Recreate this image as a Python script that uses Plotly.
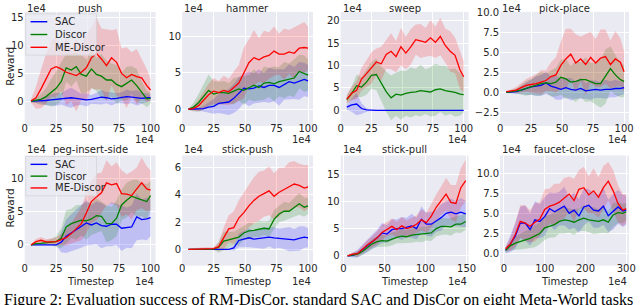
import plotly.graph_objects as go

# ---------------- data (values x1e4) ----------------
steps_100 = [5, 9, 13, 17, 21, 25, 29, 33, 37, 41, 45, 49, 53, 57, 61, 65, 69, 73, 77, 81, 85, 89, 93, 97, 100]
steps_150 = [5, 11, 17, 23, 29, 35, 41, 47, 53, 59, 65, 71, 77, 83, 89, 95, 101, 107, 113, 119, 125, 131, 137, 143, 149]
steps_300 = [4, 16, 28, 40, 52, 64, 76, 88, 100, 112, 124, 136, 148, 160, 172, 184, 196, 208, 220, 232, 244, 256, 268, 280, 292, 300]

push_sac = [0, 0, 0.05, 0.1, 0.2, 0.3, 0.4, 0.5, 0.6, 0.5, 0.3, 0.2, 0.3, 0.5, 0.7, 0.6, 0.4, 0.5, 0.6, 0.8, 0.7, 0.6, 0.5, 0.6, 0.6]
push_sac_sd = [0.2, 0.3, 0.5, 0.8, 1.0, 1.2, 1.0, 1.5, 1.8, 1.3, 1.0, 1.2, 0.8, 1.0, 1.3, 1.0, 1.2, 0.9, 1.0, 1.3, 1.1, 1.4, 1.0, 0.8, 0.6]
push_dis = [0, 0.1, 0.3, 0.8, 1.5, 2.3, 3.5, 6.0, 5.6, 6.2, 4.8, 4.5, 5.8, 4.8, 4.5, 3.8, 3.8, 3.0, 2.6, 3.2, 3.8, 2.8, 1.6, 0.4, 0.5]
push_dis_sd = [0.2, 0.5, 1.0, 1.5, 2.5, 3.0, 3.5, 2.5, 3.0, 2.5, 3.5, 3.0, 3.5, 3.0, 4.0, 3.5, 3.0, 3.5, 2.5, 3.0, 2.5, 3.0, 2.0, 1.5, 1.0]
push_me = [0, 0.6, 2.2, 4.0, 5.8, 6.2, 5.8, 5.2, 4.9, 4.6, 5.2, 6.0, 7.8, 8.6, 7.6, 6.4, 7.8, 7.0, 5.0, 4.2, 4.8, 4.4, 4.2, 2.8, 2.0]
push_me_sd = [0.3, 2.0, 3.5, 4.5, 5.0, 5.5, 4.0, 6.0, 5.0, 6.5, 5.0, 6.0, 5.5, 6.5, 5.5, 6.5, 5.0, 6.0, 4.5, 5.5, 4.0, 5.0, 3.5, 3.0, 2.0]

ham_sac = [0, 0, 0, 0.1, 0.3, 0.4, 0.8, 0.9, 1.0, 1.5, 2.2, 2.9, 2.8, 2.9, 3.2, 3.0, 3.3, 3.3, 3.0, 3.4, 3.8, 3.6, 3.9, 4.1, 3.9]
ham_sac_sd = [0, 0.1, 0.2, 0.4, 0.7, 1.0, 1.3, 1.6, 1.8, 2.0, 2.2, 2.0, 2.4, 2.1, 2.3, 2.0, 2.4, 2.2, 2.5, 2.1, 2.4, 2.2, 2.6, 2.3, 2.2]
ham_dis = [0, 0.3, 0.9, 1.7, 2.6, 2.1, 2.3, 2.3, 2.2, 2.5, 2.8, 2.6, 3.0, 3.3, 3.0, 3.6, 3.7, 3.5, 3.8, 4.0, 4.1, 4.3, 5.2, 4.9, 4.7]
ham_dis_sd = [0.1, 0.6, 1.2, 1.8, 2.2, 1.8, 1.5, 1.6, 1.4, 1.8, 1.6, 2.0, 1.7, 2.2, 1.8, 2.3, 2.0, 2.4, 2.0, 2.5, 2.2, 2.6, 2.3, 2.5, 2.2]
ham_me = [0, 0.1, 0.5, 1.2, 2.0, 2.5, 2.3, 2.6, 2.4, 3.0, 3.6, 5.0, 6.4, 7.1, 6.8, 7.2, 7.4, 8.0, 7.6, 7.6, 7.9, 7.7, 8.4, 8.5, 8.4]
ham_me_sd = [0.1, 0.3, 0.8, 1.2, 1.5, 1.8, 1.6, 2.0, 1.8, 2.2, 2.5, 3.5, 3.2, 3.8, 3.0, 3.6, 3.2, 3.4, 2.8, 3.5, 3.0, 3.6, 3.2, 3.5, 3.0]

swp_sac = [0.7, 1.2, 1.4, 0.4, 0.1, 0.0, 0, 0, 0, 0, 0, 0, 0, 0, 0, 0, 0, 0, 0, 0, 0, 0, 0, 0, 0]
swp_sac_sd = [0.6, 1.5, 2.5, 1.2, 0.4, 0.1, 0.05, 0.05, 0.05, 0.05, 0.05, 0.05, 0.05, 0.05, 0.05, 0.05, 0.05, 0.05, 0.05, 0.05, 0.05, 0.05, 0.05, 0.05, 0.05]
swp_dis = [2.4, 3.8, 5.5, 5.2, 6.3, 7.8, 8.0, 6.0, 4.2, 2.8, 3.6, 3.4, 3.8, 4.0, 4.1, 4.4, 4.2, 4.1, 4.6, 4.8, 4.4, 4.2, 4.0, 3.6, 3.5]
swp_dis_sd = [0.8, 1.5, 2.5, 2.2, 2.8, 3.0, 3.5, 3.8, 4.5, 5.0, 4.8, 5.5, 5.0, 5.6, 5.2, 5.8, 5.0, 5.5, 5.8, 5.2, 5.6, 5.0, 5.4, 4.8, 4.0]
swp_me = [2.5, 3.8, 4.5, 7.0, 8.2, 9.5, 10.8, 10.4, 12.5, 13.2, 12.0, 14.2, 12.8, 14.2, 15.8, 15.5, 15.2, 16.2, 15.2, 16.5, 14.5, 13.2, 12.3, 9.0, 7.5]
swp_me_sd = [1.0, 1.5, 2.0, 2.5, 3.0, 3.5, 3.0, 3.8, 3.2, 4.0, 3.5, 4.2, 3.6, 4.0, 3.4, 3.8, 3.2, 4.0, 3.5, 4.2, 3.8, 4.5, 4.0, 4.2, 3.5]

pp_sac = [0, 0.05, 0.1, 0.3, 0.5, 0.7, 0.8, 0.9, 1.2, 0.8, 0.6, 0.4, 0.6, 0.4, 0.3, 0.5, 0.2, 0.3, 0.4, 0.3, 0.4, 0.4, 0.5, 0.5, 0.6]
pp_sac_sd = [0.05, 0.1, 0.3, 0.5, 0.8, 1.0, 1.2, 1.3, 1.4, 1.2, 1.5, 1.3, 1.2, 1.4, 1.1, 1.3, 1.0, 1.2, 1.1, 1.0, 1.2, 1.0, 1.1, 0.9, 0.8]
pp_dis = [0, 0.1, 0.2, 0.3, 0.5, 0.7, 0.9, 1.1, 1.2, 1.1, 1.3, 1.9, 1.7, 1.3, 1.4, 1.6, 1.6, 1.3, 1.1, 1.1, 2.0, 3.0, 2.2, 1.6, 1.4]
pp_dis_sd = [0.1, 0.2, 0.3, 0.6, 0.9, 1.0, 1.3, 1.5, 1.2, 1.6, 1.8, 2.2, 2.5, 2.0, 2.6, 2.2, 2.8, 2.4, 2.6, 3.0, 3.4, 2.8, 2.5, 2.2, 2.0]
pp_me = [0.1, 0.2, 0.3, 0.6, 0.9, 1.0, 1.1, 1.3, 1.5, 2.0, 2.2, 3.4, 4.2, 4.8, 3.7, 4.2, 3.5, 4.4, 3.7, 4.3, 4.5, 3.5, 4.2, 3.8, 2.6]
pp_me_sd = [0.1, 0.2, 0.4, 0.6, 0.8, 1.0, 1.2, 1.5, 1.3, 1.8, 2.2, 3.0, 3.8, 3.2, 3.6, 2.8, 3.8, 3.2, 3.0, 3.6, 3.4, 3.0, 3.5, 3.0, 2.5]

peg_sac = [0, 0, 0, 0, 0, 0, 0.4, 1.3, 1.8, 2.3, 2.8, 3.3, 3.0, 3.3, 2.9, 2.8, 3.1, 3.1, 2.5, 2.6, 2.7, 4.2, 3.8, 3.9, 4.1]
peg_sac_sd = [0, 0, 0, 0, 0, 0, 1.5, 2.5, 2.8, 3.0, 3.2, 3.4, 3.0, 3.2, 3.4, 3.0, 3.3, 3.1, 3.4, 3.0, 3.2, 3.5, 3.0, 3.2, 2.8]
peg_dis = [0, 0.2, 0.25, 0.35, 0.4, 0.5, 1.0, 2.7, 3.2, 3.4, 3.7, 3.6, 3.9, 4.4, 4.3, 3.2, 3.2, 4.0, 6.0, 6.7, 7.3, 7.0, 6.8, 6.5, 7.4]
peg_dis_sd = [0.1, 0.2, 0.3, 0.4, 0.5, 0.8, 1.5, 2.5, 2.2, 2.6, 2.3, 2.8, 2.4, 2.6, 2.2, 2.8, 2.5, 2.7, 2.3, 2.6, 2.4, 2.8, 2.5, 2.6, 2.2]
peg_me = [0, 0.5, 0.7, 0.45, 0.45, 0.5, 0.8, 1.1, 1.7, 2.5, 3.2, 4.8, 6.5, 7.2, 7.8, 9.3, 9.0, 9.2, 7.7, 7.6, 7.4, 8.4, 9.3, 8.4, 8.2]
peg_me_sd = [0.1, 0.4, 0.5, 0.4, 0.5, 0.6, 0.8, 1.2, 1.5, 2.0, 2.5, 3.0, 3.2, 3.5, 3.0, 3.4, 2.8, 3.2, 3.5, 3.0, 3.6, 3.2, 3.8, 3.4, 3.0]

sp_sac = [0, 0, 0, 0, 0, 0, 0, 0, 0, 0.1, 0.65, 0.75, 0.85, 0.75, 0.8, 0.85, 0.9, 0.85, 0.82, 0.8, 0.75, 0.7, 0.8, 0.9, 0.85]
sp_sac_sd = [0, 0, 0, 0, 0, 0, 0, 0, 0, 0.2, 0.5, 0.6, 0.7, 0.6, 0.7, 0.8, 0.7, 0.8, 0.7, 0.8, 0.9, 0.8, 0.9, 0.8, 0.7]
sp_dis = [0, 0, 0, 0, 0, 0.02, 0.15, 0.6, 0.7, 0.8, 0.9, 1.2, 1.35, 1.4, 1.5, 1.55, 1.5, 2.2, 2.6, 2.8, 2.8, 3.1, 3.35, 3.1, 3.2]
sp_dis_sd = [0, 0, 0.02, 0.02, 0.02, 0.05, 0.4, 0.7, 0.6, 0.5, 0.6, 0.5, 0.6, 0.5, 0.6, 0.5, 0.6, 0.7, 0.6, 0.7, 0.6, 0.7, 0.8, 0.7, 0.6]
sp_me = [0, 0, 0.05, 0.05, 0.05, 0.05, 0.2, 0.8, 1.5, 1.6, 2.3, 2.7, 3.2, 3.6, 3.9, 4.1, 4.3, 3.9, 4.2, 4.4, 4.6, 4.8, 4.7, 4.5, 4.6]
sp_me_sd = [0.05, 0.1, 0.1, 0.1, 0.1, 0.1, 0.3, 0.8, 1.0, 1.2, 1.3, 1.5, 1.6, 1.7, 1.8, 1.7, 1.8, 1.7, 1.8, 1.6, 1.8, 1.7, 1.6, 1.7, 1.6]

spl_sac = [0, 0.1, 0.4, 1.1, 1.8, 2.6, 3.3, 4.2, 4.0, 4.8, 5.0, 5.0, 5.2, 5.5, 5.0, 6.7, 5.8, 5.8, 6.4, 7.0, 7.8, 8.0, 7.7, 8.0, 7.7]
spl_sac_sd = [0.1, 0.4, 0.7, 0.9, 1.1, 1.3, 1.5, 1.8, 1.6, 1.9, 1.7, 2.1, 1.8, 2.2, 2.0, 2.4, 2.1, 2.3, 2.0, 2.4, 2.2, 2.5, 2.3, 2.6, 2.4]
spl_dis = [0, 0.1, 0.3, 0.8, 1.5, 2.2, 2.6, 2.8, 2.7, 3.1, 3.4, 3.6, 3.5, 3.8, 3.9, 3.9, 4.1, 4.2, 5.0, 5.4, 5.4, 5.3, 5.8, 5.8, 6.3]
spl_dis_sd = [0.1, 0.3, 0.5, 0.7, 0.8, 0.9, 1.0, 1.1, 1.0, 1.2, 1.1, 1.3, 1.2, 1.4, 1.3, 1.4, 1.3, 1.5, 1.4, 1.6, 1.5, 1.6, 1.5, 1.6, 1.5]
spl_me = [0, 0.3, 0.4, 1.2, 2.0, 2.6, 3.3, 4.3, 4.9, 5.4, 4.8, 5.5, 5.0, 5.3, 5.8, 6.6, 6.1, 7.3, 8.9, 10.1, 11.3, 9.8, 9.6, 12.5, 13.8]
spl_me_sd = [0.1, 0.3, 0.5, 0.7, 0.9, 1.0, 1.2, 1.4, 1.3, 1.5, 1.4, 1.6, 1.5, 1.7, 1.6, 1.9, 1.8, 2.2, 2.4, 2.6, 3.0, 3.2, 3.4, 3.6, 3.8]

fc_sac = [0.4, 1.2, 2.2, 3.8, 3.8, 3.0, 4.2, 4.0, 4.6, 5.6, 5.2, 5.6, 5.9, 5.0, 5.4, 4.7, 5.8, 6.0, 5.4, 5.3, 5.9, 4.7, 5.2, 5.8, 5.3, 5.4]
fc_sac_sd = [0.4, 1.0, 1.6, 2.0, 2.2, 2.0, 2.3, 2.1, 2.4, 2.0, 2.3, 2.1, 2.4, 2.0, 2.2, 2.1, 2.3, 2.0, 2.2, 2.1, 2.3, 2.0, 2.2, 2.1, 2.0, 1.8]
fc_dis = [0.4, 1.0, 1.3, 1.5, 1.7, 1.9, 2.2, 2.5, 3.2, 3.4, 3.6, 4.0, 4.2, 4.1, 3.9, 4.2, 4.4, 4.2, 4.1, 4.0, 4.2, 3.9, 4.8, 5.1, 5.0, 5.2]
fc_dis_sd = [0.3, 0.6, 0.8, 1.0, 1.1, 1.2, 1.4, 1.3, 1.5, 1.4, 1.6, 1.5, 1.7, 1.5, 1.6, 1.4, 1.6, 1.5, 1.7, 1.5, 1.6, 1.4, 1.5, 1.3, 1.2, 1.1]
fc_me = [0.6, 1.2, 2.4, 4.0, 3.8, 3.4, 3.9, 4.3, 5.5, 5.9, 6.1, 6.4, 6.9, 7.4, 6.6, 8.0, 8.2, 7.3, 7.8, 7.0, 8.2, 9.0, 7.8, 6.2, 5.4, 5.6]
fc_me_sd = [0.3, 0.8, 1.5, 2.0, 2.2, 2.0, 2.4, 2.1, 2.5, 2.2, 2.6, 2.3, 2.5, 2.2, 2.7, 2.4, 2.6, 2.3, 2.8, 2.5, 2.7, 2.4, 2.6, 2.3, 2.0, 1.8]

task_titles = ["push", "hammer", "sweep", "pick-place",
               "peg-insert-side", "stick-push", "stick-pull", "faucet-close"]
methods = ["SAC", "Discor", "ME-Discor"]

# ---------------- style ----------------
W, H = 640, 305
LINE = {"SAC": "#0000ff", "Discor": "#008000", "ME-Discor": "#ff0000"}
BAND = {"SAC": "rgba(0,0,255,0.18)", "Discor": "rgba(0,128,0,0.18)", "ME-Discor": "rgba(255,0,0,0.18)"}
TXT = "#262626"
FONT = "DejaVu Sans"

col_px = [(22, 155), (182, 315), (343, 473), (505, 636)]
row_px = [(7, 123), (153, 265)]

def fx(p):
    return p / W

def fy(p):
    return 1 - p / H

panels = [
    (steps_100, [push_sac, push_sac_sd, push_dis, push_dis_sd, push_me, push_me_sd], [0, 104], [0, 25, 50, 75, 100], [-4.5, 16.1], [0, 5, 10, 15], None),
    (steps_100, [ham_sac, ham_sac_sd, ham_dis, ham_dis_sd, ham_me, ham_me_sd], [0, 104], [0, 25, 50, 75, 100], [-2.3, 13.4], [0, 5, 10], None),
    (steps_100, [swp_sac, swp_sac_sd, swp_dis, swp_dis_sd, swp_me, swp_me_sd], [0, 104], [0, 25, 50, 75, 100], [-3.5, 22], [0, 5, 10, 15, 20], None),
    (steps_100, [pp_sac, pp_sac_sd, pp_dis, pp_dis_sd, pp_me, pp_me_sd], [0, 104], [0, 25, 50, 75, 100], [-4.2, 10.1], [-2.5, 0, 2.5, 5, 7.5, 10], ".1f"),
    (steps_100, [peg_sac, peg_sac_sd, peg_dis, peg_dis_sd, peg_me, peg_me_sd], [0, 104], [0, 25, 50, 75, 100], [-3.1, 13.4], [0, 5, 10], None),
    (steps_100, [sp_sac, sp_sac_sd, sp_dis, sp_dis_sd, sp_me, sp_me_sd], [0, 104], [0, 25, 50, 75, 100], [-1.2, 6.9], [0, 2, 4, 6], None),
    (steps_150, [spl_sac, spl_sac_sd, spl_dis, spl_dis_sd, spl_me, spl_me_sd], [-3.5, 152.5], [0, 50, 100, 150], [-1.8, 18.4], [0, 5, 10, 15], None),
    (steps_300, [fc_sac, fc_sac_sd, fc_dis, fc_dis_sd, fc_me, fc_me_sd], [-9.5, 307], [0, 100, 200, 300], [-1.5, 12.2], [0, 2.5, 5, 7.5, 10], ".1f"),
]

fig = go.Figure()
layout = dict(
    width=W, height=H, margin=dict(l=0, r=0, t=0, b=0),
    paper_bgcolor="white", plot_bgcolor="#EAEAF2", showlegend=False,
    font=dict(family=FONT, size=10, color=TXT),
)
annotations = []
shapes = []

for i, (steps, arrs, xr, xt, yr, yt, yfmt) in enumerate(panels):
    r, c = divmod(i, 4)
    n = i + 1
    xa = "x" if n == 1 else f"x{n}"
    ya = "y" if n == 1 else f"y{n}"
    x0, x1 = col_px[c]
    y0, y1 = row_px[r]
    layout["xaxis" if n == 1 else f"xaxis{n}"] = dict(
        domain=[fx(x0), fx(x1)], anchor=ya, range=xr, tickvals=xt,
        showgrid=True, gridcolor="white", gridwidth=1, zeroline=False,
        showline=False, ticks="", tickfont=dict(size=10, color=TXT),
        ticklabelstandoff=-5,
    )
    layout["yaxis" if n == 1 else f"yaxis{n}"] = dict(
        domain=[fy(y1), fy(y0)], anchor=xa, range=yr, tickvals=yt,
        tickformat=yfmt if yfmt else "",
        showgrid=True, gridcolor="white", gridwidth=1, zeroline=False,
        showline=False, ticks="", tickfont=dict(size=10, color=TXT),
    )
    # bands
    for k, m in enumerate(methods):
        mean = arrs[2 * k]
        sd = arrs[2 * k + 1]
        hi = [a + b for a, b in zip(mean, sd)]
        lo = [a - b for a, b in zip(mean, sd)]
        fig.add_trace(go.Scatter(
            x=steps + steps[::-1], y=hi + lo[::-1], fill="toself",
            fillcolor=BAND[m], line=dict(width=0), mode="lines",
            xaxis=xa, yaxis=ya, hoverinfo="skip"))
    for k, m in enumerate(methods):
        fig.add_trace(go.Scatter(
            x=steps, y=arrs[2 * k], mode="lines", name=m,
            line=dict(color=LINE[m], width=1.3),
            xaxis=xa, yaxis=ya))
    # title
    ty = 4 if r == 0 else 147
    annotations.append(dict(text=task_titles[i], x=fx((x0 + x1) / 2), y=fy(ty),
                            xref="paper", yref="paper", xanchor="center", yanchor="middle",
                            showarrow=False, font=dict(size=10, color=TXT)))
    # offset text top-left
    annotations.append(dict(text="1e4", x=fx(x0), y=fy(ty), xref="paper", yref="paper",
                            xanchor="left", yanchor="middle", showarrow=False,
                            font=dict(size=10, color=TXT)))
    # offset text bottom-right
    by = 137 if r == 0 else 281
    annotations.append(dict(text="1e4", x=fx(x1), y=fy(by), xref="paper", yref="paper",
                            xanchor="right", yanchor="middle", showarrow=False,
                            font=dict(size=10, color=TXT)))
    if r == 1:
        annotations.append(dict(text="Timestep", x=fx((x0 + x1) / 2), y=fy(281),
                                xref="paper", yref="paper", xanchor="center", yanchor="middle",
                                showarrow=False, font=dict(size=10, color=TXT)))
    if c == 0:
        annotations.append(dict(text="Reward", x=fx(7), y=fy((y0 + y1) / 2 - 3),
                                xref="paper", yref="paper", xanchor="center", yanchor="middle",
                                textangle=-90, showarrow=False, font=dict(size=10.5, color=TXT)))
        # legend
        ly = [17, 30, 43] if r == 0 else [162, 174, 186]
        shapes.append(dict(type="rect", xref="paper", yref="paper",
                           x0=fx(23), x1=fx(95), y0=fy(ly[0] - 8), y1=fy(ly[2] + 8),
                           fillcolor="rgba(234,234,242,0.75)", line=dict(color="rgba(210,210,215,0.9)", width=0.8),
                           layer="above"))
        for m, yy in zip(methods, ly):
            shapes.append(dict(type="line", xref="paper", yref="paper",
                               x0=fx(28), x1=fx(45), y0=fy(yy), y1=fy(yy),
                               line=dict(color=LINE[m], width=1.4), layer="above"))
            annotations.append(dict(text=m, x=fx(51), y=fy(yy), xref="paper", yref="paper",
                                    xanchor="left", yanchor="middle", showarrow=False,
                                    font=dict(size=10, color=TXT)))

annotations.append(dict(
    text="Figure 2: Evaluation success of RM-DisCor, standard SAC and DisCor on eight Meta-World tasks",
    x=0.5, y=fy(289), xref="paper", yref="paper", xanchor="center", yanchor="top",
    showarrow=False, font=dict(family="Liberation Serif", size=16, color="black")))

layout["annotations"] = annotations
layout["shapes"] = shapes
fig.update_layout(**layout)
fig.write_html("out.html", config={"displayModeBar": False},
               post_script="document.body.style.margin='0';document.body.style.overflow='hidden';")
